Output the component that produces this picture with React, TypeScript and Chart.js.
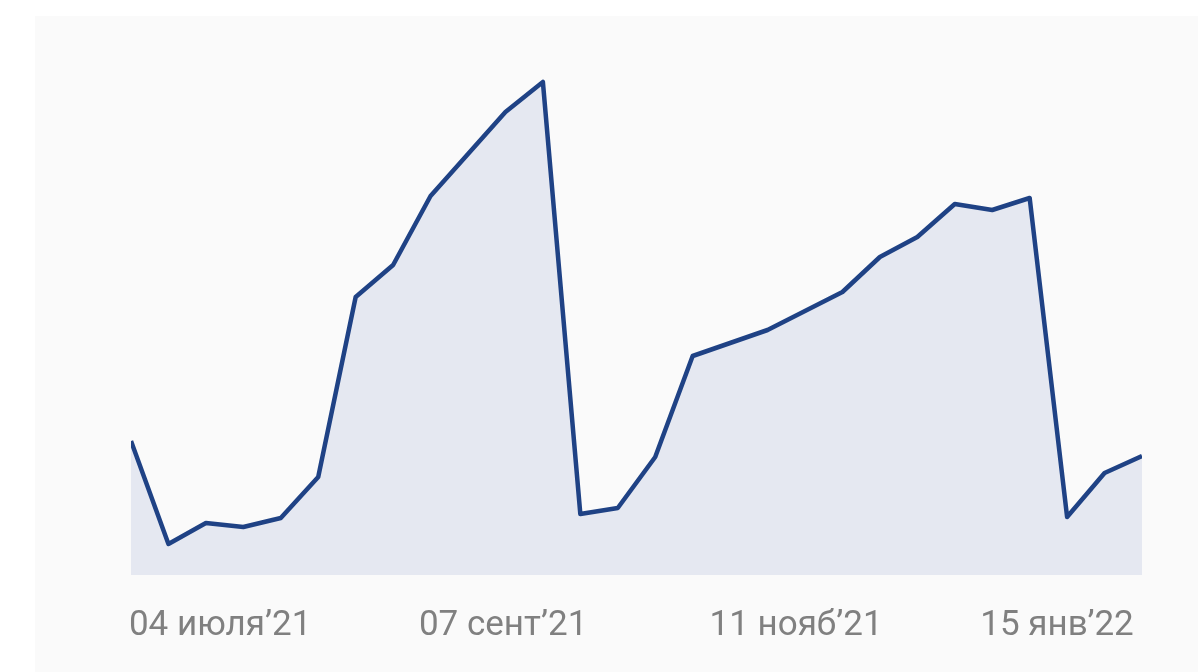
import React, { useEffect, useRef } from "react";
import { Chart, registerables } from "chart.js";

Chart.register(...registerables);

const values: number[] = [
  26.8, 6.2, 10.4, 9.6, 11.4, 19.6, 55.6, 62, 75.8, 84.2, 92.6, 98.6, 12.2, 13.4,
  23.6, 43.8, 46.4, 49, 52.8, 56.6, 63.6, 67.6, 74.2, 73, 75.4, 11.6, 20.4, 23.8,
];
const tickLabels: string[] = ["04 июля’21", "07 сент’21", "11 нояб’21", "15 янв’22"];
const tickAt: number[] = [2.38, 9.94, 17.76, 24.73];

export default function App() {
  const ref = useRef<HTMLCanvasElement | null>(null);
  useEffect(() => {
    if (!ref.current) return;
    const chart = new Chart(ref.current, {
      type: "line",
      data: {
        datasets: [
          {
            data: values.map((v, i) => ({ x: i, y: v })),
            borderColor: "#1f4285",
            backgroundColor: "#e5e8f1",
            borderWidth: 4.5,
            fill: "origin",
            tension: 0,
            pointRadius: 0,
            borderJoinStyle: "round",
          },
        ],
      },
      options: {
        responsive: false,
        animation: false,
        layout: { padding: { left: 131, right: 56, top: 75, bottom: 0 } },
        plugins: { legend: { display: false }, tooltip: { enabled: false } },
        scales: {
          x: {
            type: "linear",
            min: 0,
            max: values.length - 1,
            grid: { display: false },
            border: { display: false },
            afterBuildTicks: (s: any) => {
              s.ticks = tickAt.map((v) => ({ value: v }));
            },
            afterFit: (s: any) => {
              s.height = 97;
            },
            ticks: {
              autoSkip: false,
              maxRotation: 0,
              padding: 22,
              color: "#808080",
              font: { family: "Roboto", size: 35, weight: "normal" },
              callback: (v: any) => {
                const idx = tickAt.indexOf(Number(v));
                return idx >= 0 ? tickLabels[idx] : "";
              },
            },
          },
          y: {
            display: false,
            min: 0,
            max: 100,
          },
        },
      },
    } as any);
    return () => chart.destroy();
  }, []);
  return (
    <div style={{ position: "fixed", left: 0, top: 0, width: 1198, height: 672, background: "#ffffff" }}>
      <div style={{ position: "absolute", left: 35, top: 16, right: 0, bottom: 0, background: "#fafafa" }} />
      <canvas ref={ref} width={1198} height={672} style={{ position: "absolute", left: 0, top: 0 }} />
    </div>
  );
}
